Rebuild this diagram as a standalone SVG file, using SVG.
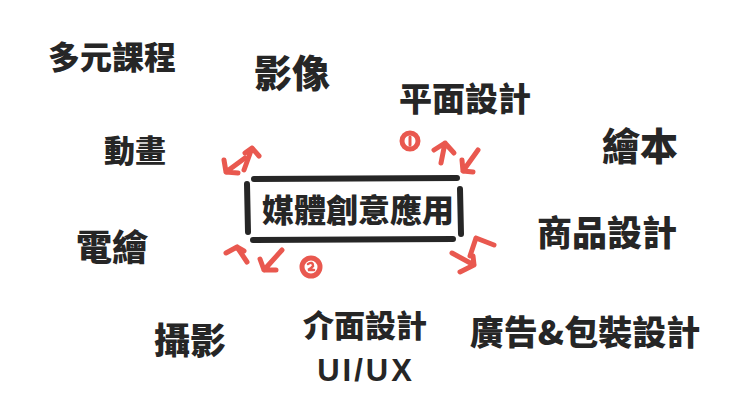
<svg xmlns="http://www.w3.org/2000/svg" width="735" height="414" viewBox="0 0 735 414">
<style>
.t{font-family:"Noto Sans CJK TC","Noto Sans CJK SC",sans-serif;font-weight:900;fill:#262626;text-anchor:middle;dominant-baseline:central}
.a{fill:none;stroke:#e9584f;stroke-width:5;stroke-linecap:round;stroke-linejoin:round}
.b{fill:none;stroke:#262626;stroke-width:6;stroke-linecap:round}
</style>
<rect width="735" height="414" fill="#ffffff"/>
<g id="center">
<line class="b" x1="254" y1="179" x2="457" y2="178"/>
<line class="b" x1="253" y1="240" x2="453" y2="239"/>
<line class="b" x1="247" y1="184" x2="248" y2="232"/>
<line class="b" x1="460" y1="189" x2="461" y2="234"/>
<text class="t" x="358" y="208" font-size="32">媒體創意應用</text>
</g>
<g id="n-duoyuan"><text class="t" x="112" y="55" font-size="32">多元課程</text></g>
<g id="n-yingxiang"><text class="t" x="292" y="70" font-size="38">影像</text></g>
<g id="n-pingmian"><text class="t" x="465" y="97" font-size="33">平面設計</text></g>
<g id="n-huiben"><text class="t" x="640" y="143" font-size="38">繪本</text></g>
<g id="n-donghua"><text class="t" x="135" y="148" font-size="31">動畫</text></g>
<g id="n-dianhui"><text class="t" x="112" y="245" font-size="36">電繪</text></g>
<g id="n-shangpin"><text class="t" x="607" y="230" font-size="35">商品設計</text></g>
<g id="n-sheying"><text class="t" x="190" y="338" font-size="36">攝影</text></g>
<g id="n-jiemian"><text class="t" x="365" y="323" font-size="31">介面設計</text><text class="t" x="366" y="370" font-size="31" letter-spacing="3" style="font-family:'Liberation Sans',sans-serif">UI/UX</text></g>
<g id="n-guanggao"><text class="t" x="585" y="330" font-size="34">廣告&amp;包裝設計</text></g>
<g id="connectors">
<path class="a" d="M245,158 L226,172 M224,160 L226,172 L238,173"/>
<path class="a" d="M244,170 L252,148 M245,153 L252,148 L259,156"/>
<path class="a" d="M441,163 L445,143 M434,150 L445,143 L454,153"/>
<path class="a" d="M478,150 L463,171 M462,160 L463,171 L473,172"/>
<path class="a" d="M247,262 L237,247 M226,253 L237,247 L244,251"/>
<path class="a" d="M282,250 L264,270 M260,259 L264,270 L276,270"/>
<path class="a" d="M452,253 L474,265 M460,272 L474,265 L473,256"/>
<path class="a" d="M470,256 L476,238 M476,238 L494,245"/>
<circle cx="410" cy="141" r="8" fill="none" stroke="#e9584f" stroke-width="5"/>
<line x1="410" y1="137" x2="410" y2="145" stroke="#e9584f" stroke-width="3" stroke-linecap="round"/>
<circle cx="311" cy="267" r="9" fill="none" stroke="#e9584f" stroke-width="5"/>
<path d="M308,264 Q313,261 313,266 Q311,269 308,270 L314,270" fill="none" stroke="#e9584f" stroke-width="2.5" stroke-linecap="round"/>
</g>
</svg>
